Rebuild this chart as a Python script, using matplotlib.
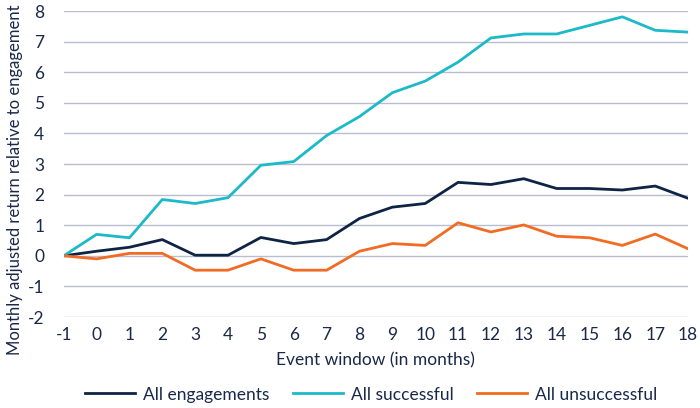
import matplotlib
matplotlib.use('Agg')
import matplotlib.pyplot as plt

plt.rcParams['font.family'] = ['Lato', 'DejaVu Sans']
plt.rcParams['font.size'] = 12
plt.rcParams['axes.unicode_minus'] = False

TEXT = '#1a2948'
NAVY = '#0f2344'
TEAL = '#1cb9c8'
ORANGE = '#f26b22'
GRID = '#b8bdcf'

months = list(range(-1, 19))
all_engagements = [0, 0.15, 0.28, 0.53, 0.02, 0.02, 0.60, 0.40, 0.53, 1.22,
                   1.59, 1.71, 2.40, 2.33, 2.52, 2.20, 2.20, 2.15, 2.28, 1.88]
all_successful = [0, 0.70, 0.59, 1.84, 1.71, 1.90, 2.96, 3.08, 3.93, 4.55,
                  5.33, 5.71, 6.33, 7.12, 7.25, 7.25, 7.53, 7.81, 7.37, 7.31]
all_unsuccessful = [0, -0.10, 0.08, 0.08, -0.47, -0.47, -0.10, -0.47, -0.47, 0.15,
                    0.40, 0.34, 1.08, 0.78, 1.01, 0.64, 0.59, 0.34, 0.71, 0.23]

fig = plt.figure(figsize=(7, 4.08), dpi=100)
ax = fig.add_axes([0.091, 0.223, 0.892, 0.75])

for y in range(-2, 9):
    ax.axhline(y, color=GRID, linewidth=1.0, zorder=1)

ax.plot(months, all_engagements, color=NAVY, linewidth=2, label='All engagements', zorder=3)
ax.plot(months, all_successful, color=TEAL, linewidth=2, label='All successful', zorder=3)
ax.plot(months, all_unsuccessful, color=ORANGE, linewidth=2, label='All unsuccessful', zorder=3)

ax.set_xlim(-1, 18)
ax.set_ylim(-2, 8)
ax.set_xticks(months)
ax.set_yticks(range(-2, 9))
ax.tick_params(length=0, colors=TEXT, labelsize=12.5)
ax.tick_params(axis='x', pad=7)
ax.tick_params(axis='y', pad=14)
for s in ax.spines.values():
    s.set_visible(False)

ax.set_xlabel('Event window (in months)', color=TEXT, fontsize=12.5, labelpad=7)
fig.text(0.022, 0.56, 'Monthly adjusted return relative to engagement', rotation=90,
         ha='center', va='center', color=TEXT, fontsize=12)

fig.legend(loc='lower center', bbox_to_anchor=(0.53, -0.025), ncol=3, frameon=False,
           handlelength=2.9, handletextpad=0.45, columnspacing=1.35,
           fontsize=12.5, labelcolor=TEXT)

fig.savefig('out.png', dpi=100)
